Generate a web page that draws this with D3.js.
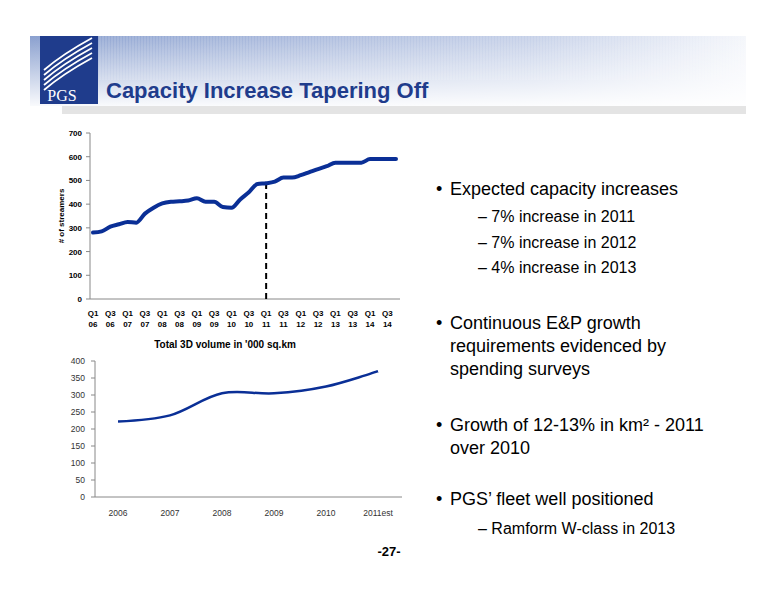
<!DOCTYPE html><html><head><meta charset="utf-8">
<script src="https://cdn.jsdelivr.net/npm/d3@7"></script>
<style>body{margin:0;background:#fff}svg{font-family:Arial,"Liberation Sans",sans-serif}</style>
</head><body><svg id="c" width="776" height="600"></svg>
<script>
const quarters=[];for(let y=6;y<=14;y++)for(let q=1;q<=4;q++)quarters.push("Q"+q+" "+String(y).padStart(2,"0"));
const streamers=[280,285,305,315,325,322,360,385,403,410,412,415,425,410,410,388,385,420,450,485,488,495,512,512,522,535,548,560,575,575,575,575,590,590,590,590];
const topTicks=[0,100,200,300,400,500,600,700];
const years=["2006","2007","2008","2009","2010","2011est"];
const volume=[222,240,305,305,325,370];
const botTicks=[0,50,100,150,200,250,300,350,400];
const svg=d3.select("#c");
const defs=svg.append("defs");
const g1=defs.append("linearGradient").attr("id","hd").attr("x1",0).attr("x2",1);
g1.append("stop").attr("offset",0).attr("stop-color","#8aa0cf");
g1.append("stop").attr("offset",0.7).attr("stop-color","#c5d0e8");
g1.append("stop").attr("offset",1).attr("stop-color","#f4f6fb");
const g2=defs.append("linearGradient").attr("id","hv").attr("x1",0).attr("x2",0).attr("y1",0).attr("y2",1);
g2.append("stop").attr("offset",0).attr("stop-color","#fff").attr("stop-opacity",0);
g2.append("stop").attr("offset",1).attr("stop-color","#fff").attr("stop-opacity",0.95);
svg.append("rect").attr("x",30).attr("y",36).attr("width",716).attr("height",70).attr("fill","url(#hd)");
svg.append("rect").attr("x",30).attr("y",36).attr("width",716).attr("height",70).attr("fill","url(#hv)");
for(let x=100;x<746;x+=3)svg.append("line").attr("x1",x).attr("x2",x).attr("y1",36).attr("y2",80).attr("stroke","#fff").attr("stroke-opacity",0.25);
svg.append("rect").attr("x",40).attr("y",36).attr("width",58).attr("height",68).attr("fill","#1f3c8c");
for(let i=0;i<5;i++)svg.append("path").attr("d",`M44,${70+i*5} C58,${58+i*5} 70,${50+i*5} 92,${38+i*5}`).attr("stroke","#fff").attr("fill","none").attr("stroke-width",1.8);
svg.append("text").attr("x",62).attr("y",101).attr("text-anchor","middle").attr("fill","#fff").attr("font-family","Liberation Serif,serif").attr("font-size",16).text("PGS");
svg.append("text").attr("x",106).attr("y",98).attr("fill","#1f3c8c").attr("font-weight","bold").attr("font-size",22).text("Capacity Increase Tapering Off");
svg.append("rect").attr("x",62).attr("y",106).attr("width",684).attr("height",8).attr("fill","#e4e4e4");
// top chart
const xs=d3.scalePoint().domain(quarters).range([93,396]);
const ys=d3.scaleLinear().domain([0,700]).range([299,133]);
const t=svg.append("g");
t.append("line").attr("x1",90).attr("x2",90).attr("y1",133).attr("y2",299).attr("stroke","#888");
t.append("line").attr("x1",90).attr("x2",400).attr("y1",299).attr("y2",299).attr("stroke","#888");
topTicks.forEach(v=>{t.append("line").attr("x1",86).attr("x2",90).attr("y1",ys(v)).attr("y2",ys(v)).attr("stroke","#888");
t.append("text").attr("x",82).attr("y",ys(v)+3).attr("text-anchor","end").attr("font-size",8).attr("font-weight","bold").text(v);});
quarters.forEach((q,i)=>{if(i%2)return;const [a,b]=q.split(" ");
t.append("text").attr("x",xs(q)).attr("y",316).attr("text-anchor","middle").attr("font-size",8).attr("font-weight","bold").text(a);
t.append("text").attr("x",xs(q)).attr("y",327).attr("text-anchor","middle").attr("font-size",8).attr("font-weight","bold").text(b);});
t.append("text").attr("transform","translate(64,216) rotate(-90)").attr("text-anchor","middle").attr("font-size",8).attr("font-weight","bold").text("# of streamers");
t.append("text").attr("x",225).attr("y",348).attr("text-anchor","middle").attr("font-size",10).attr("font-weight","bold").text("Total 3D volume in '000 sq.km");
t.append("line").attr("x1",xs("Q1 11")).attr("x2",xs("Q1 11")).attr("y1",ys(0)).attr("y2",ys(streamers[20])).attr("stroke","#000").attr("stroke-width",2).attr("stroke-dasharray","6,4");
t.append("path").attr("d",d3.line().x((d,i)=>xs(quarters[i])).y(d=>ys(d)).curve(d3.curveMonotoneX)(streamers)).attr("fill","none").attr("stroke","#0a2f96").attr("stroke-width",4).attr("stroke-linecap","round");
// bottom chart
const xb=d3.scalePoint().domain(years).range([118,378]);
const yb=d3.scaleLinear().domain([0,400]).range([497,361]);
const b=svg.append("g");
b.append("line").attr("x1",95).attr("x2",95).attr("y1",361).attr("y2",497).attr("stroke","#888");
b.append("line").attr("x1",95).attr("x2",402).attr("y1",497).attr("y2",497).attr("stroke","#888");
botTicks.forEach(v=>{b.append("line").attr("x1",91).attr("x2",95).attr("y1",yb(v)).attr("y2",yb(v)).attr("stroke","#888");
b.append("text").attr("x",85).attr("y",yb(v)+3).attr("text-anchor","end").attr("font-size",8.5).attr("fill","#333").text(v);});
years.forEach(y=>b.append("text").attr("x",xb(y)).attr("y",516).attr("text-anchor","middle").attr("font-size",8.5).attr("fill","#333").text(y));
b.append("path").attr("d",d3.line().x((d,i)=>xb(years[i])).y(d=>yb(d)).curve(d3.curveCatmullRom)(volume)).attr("fill","none").attr("stroke","#0a2f96").attr("stroke-width",2.5);
// bullets
const txt=svg.append("g").attr("font-size",18);
const big=[["Expected capacity increases",195],["Continuous E&P growth",329],["requirements evidenced by",352],["spending surveys",375],["Growth of 12-13% in km² - 2011",431],["over 2010",454],["PGS’ fleet well positioned",505]];
big.forEach(([s,y])=>txt.append("text").attr("x",450).attr("y",y).text(s));
[195,329,431,505].forEach(y=>txt.append("text").attr("x",436).attr("y",y).text("•"));
[["– 7% increase in 2011",222],["– 7% increase in 2012",248],["– 4% increase in 2013",273],["– Ramform W-class in 2013",534]].forEach(([s,y])=>txt.append("text").attr("x",478).attr("y",y).attr("font-size",16).text(s));
svg.append("text").attr("x",389).attr("y",556).attr("text-anchor","middle").attr("font-size",13).attr("font-weight","bold").text("-27-");
</script></body></html>
